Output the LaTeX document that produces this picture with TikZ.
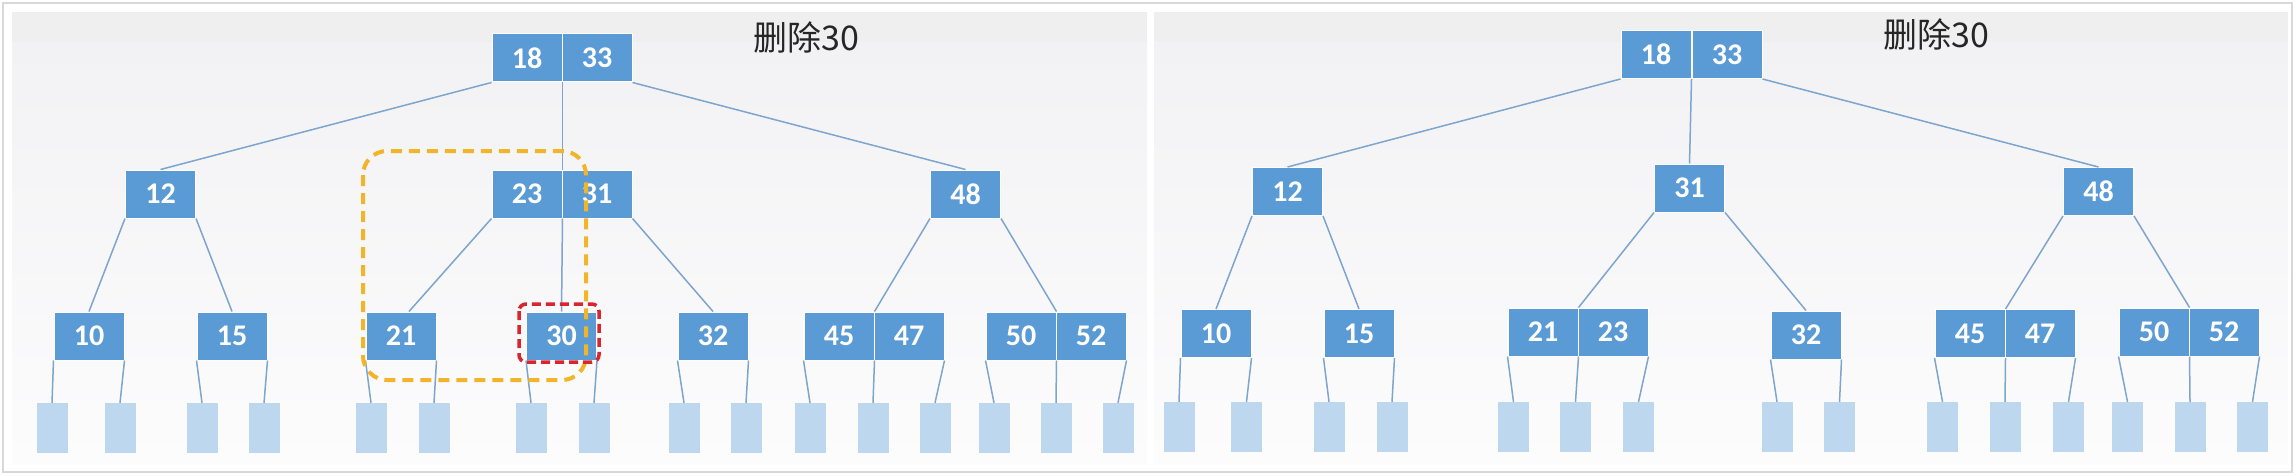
\documentclass[tikz,border=0pt]{standalone}
\usepackage{fontspec}
\setmainfont{Carlito}
\newfontfamily\cjkfont{Noto Sans CJK SC}
\definecolor{nodeblue}{HTML}{5B9BD5}
\definecolor{leafblue}{HTML}{BDD7EE}
\definecolor{edgec}{RGB}{125,165,205}
\definecolor{bandc}{HTML}{EFEFF0}
\definecolor{bgtop}{HTML}{F2F2F4}
\definecolor{bgbot}{HTML}{FCFCFD}
\definecolor{framec}{HTML}{D8D8D8}
\definecolor{orangec}{RGB}{242,180,40}
\definecolor{redc}{RGB}{215,38,46}
\tikzset{
  key/.style={rectangle, fill=nodeblue, draw=white, line width=1pt, minimum width=70pt, minimum height=48pt, inner sep=0pt, text=white, font=\bfseries\fontsize{30}{32}\selectfont},
  leaf/.style={rectangle, fill=leafblue, minimum width=31pt, minimum height=50pt, inner sep=0pt},
  link/.style={draw=edgec, line width=1.5pt},
  titletext/.style={inner sep=0pt, text=black!85, font=\cjkfont\fontsize{34}{36}\selectfont},
  panel/.style={bottom color=bgbot, top color=bgtop},
}
\begin{document}
\begin{tikzpicture}[x=1pt, y=-1pt]
\useasboundingbox (0,0) rectangle (2296,476);
\fill[white] (0,0) rectangle (2296,476);
\draw[framec, line width=1.5pt] (3,3) rectangle (2292,472);
% panels
\shade[panel] (12,42) rectangle (1147,463);
\fill[bandc] (12,12) rectangle (1147,42);
\shade[panel] (1154,42) rectangle (2288,463);
\fill[bandc] (1154,12) rectangle (2288,42);

% ---------- left panel ----------
\node[key] (LrA) at (527,58) {18};
\node[key] (LrB) at (597,58) {33};
\node[key] (L12) at (160.5,194) {12};
\node[key] (LmA) at (527,194) {23};
\node[key] (LmB) at (597,194) {31};
\node[key] (L48) at (965.5,194) {48};
\node[key] (L10) at (89,336) {10};
\node[key] (L15) at (232,336) {15};
\node[key] (L21) at (401,336) {21};
\node[key] (L30) at (561.5,336) {30};
\node[key] (L32) at (713,336) {32};
\node[key] (L45) at (839,336) {45};
\node[key] (L47) at (909,336) {47};
\node[key] (L50) at (1021,336) {50};
\node[key] (L52) at (1091,336) {52};
\foreach \i/\x in {1/52,2/120,3/202,4/264,5/371,6/434,7/531,8/594,9/684,10/746,11/810,12/873,13/935,14/994,15/1056,16/1118}
  \node[leaf] (Ll\i) at (\x,428) {};
\node[titletext] (Lt) at (806,37) {删除30};

\draw[link] (LrA.south west) -- (L12.north);
\draw[link] (LrA.south east) -- (LmA.north east);
\draw[link] (LrB.south east) -- (L48.north);
\draw[link] (L12.south west) -- (L10.north);
\draw[link] (L12.south east) -- (L15.north);
\draw[link] (LmA.south west) -- ([xshift=8pt]L21.north);
\draw[link] (LmA.south east) -- (L30.north);
\draw[link] (LmB.south east) -- (L32.north);
\draw[link] (L48.south west) -- (L45.north east);
\draw[link] (L48.south east) -- (L50.north east);
\draw[link] (L10.south west) -- (Ll1.north);
\draw[link] (L10.south east) -- (Ll2.north);
\draw[link] (L15.south west) -- (Ll3.north);
\draw[link] (L15.south east) -- (Ll4.north);
\draw[link] (L21.south west) -- (Ll5.north);
\draw[link] (L21.south east) -- (Ll6.north);
\draw[link] (L30.south west) -- (Ll7.north);
\draw[link] (L30.south east) -- (Ll8.north);
\draw[link] (L32.south west) -- (Ll9.north);
\draw[link] (L32.south east) -- (Ll10.north);
\draw[link] (L45.south west) -- (Ll11.north);
\draw[link] (L45.south east) -- (Ll12.north);
\draw[link] (L47.south east) -- (Ll13.north);
\draw[link] (L50.south west) -- (Ll14.north);
\draw[link] (L50.south east) -- (Ll15.north);
\draw[link] (L52.south east) -- (Ll16.north);

% highlight frames
\coordinate (Oa) at (363,151);
\coordinate (Ob) at (586,380);
\draw[orangec, line width=4pt, dash pattern=on 11pt off 7pt, rounded corners=24pt] (Oa) rectangle (Ob);
\coordinate (Ra) at (519,304);
\coordinate (Rb) at (599,362);
\draw[redc, line width=3.5pt, dash pattern=on 9pt off 5pt, rounded corners=7pt] (Ra) rectangle (Rb);

% ---------- right panel ----------
\node[key] (RrA) at (1656,54.5) {18};
\node[key] (RrB) at (1727,54.5) {33};
\node[key] (R12) at (1287.5,191.5) {12};
\node[key] (R31) at (1689.5,188) {31};
\node[key] (R48) at (2098.5,191.5) {48};
\node[key] (R10) at (1216,333.5) {10};
\node[key] (R15) at (1359,333.5) {15};
\node[key] (R21) at (1543,332) {21};
\node[key] (R23) at (1613,332) {23};
\node[key] (R32) at (1806,335) {32};
\node[key] (R45) at (1970,333.5) {45};
\node[key] (R47) at (2040,333.5) {47};
\node[key] (R50) at (2154,332) {50};
\node[key] (R52) at (2224,332) {52};
\foreach \i/\x in {1/1179,2/1246.5,3/1329,4/1392,5/1513.5,6/1575.5,7/1638.5,8/1777,9/1839.5,10/1942.5,11/2005,12/2068.5,13/2127.5,14/2190,15/2252.5}
  \node[leaf] (Rl\i) at (\x,427) {};
\node[titletext] (Rt) at (1936,34) {删除30};

\draw[link] (RrA.south west) -- (R12.north);
\draw[link] (RrA.south east) -- (R31.north);
\draw[link] (RrB.south east) -- (R48.north);
\draw[link] (R12.south west) -- (R10.north);
\draw[link] (R12.south east) -- (R15.north);
\draw[link] (R31.south west) -- (R21.north east);
\draw[link] (R31.south east) -- (R32.north);
\draw[link] (R48.south west) -- (R45.north east);
\draw[link] (R48.south east) -- (R50.north east);
\draw[link] (R10.south west) -- (Rl1.north);
\draw[link] (R10.south east) -- (Rl2.north);
\draw[link] (R15.south west) -- (Rl3.north);
\draw[link] (R15.south east) -- (Rl4.north);
\draw[link] (R21.south west) -- (Rl5.north);
\draw[link] (R21.south east) -- (Rl6.north);
\draw[link] (R23.south east) -- (Rl7.north);
\draw[link] (R32.south west) -- (Rl8.north);
\draw[link] (R32.south east) -- (Rl9.north);
\draw[link] (R45.south west) -- (Rl10.north);
\draw[link] (R45.south east) -- (Rl11.north);
\draw[link] (R47.south east) -- (Rl12.north);
\draw[link] (R50.south west) -- (Rl13.north);
\draw[link] (R50.south east) -- (Rl14.north);
\draw[link] (R52.south east) -- (Rl15.north);
\end{tikzpicture}
\end{document}
